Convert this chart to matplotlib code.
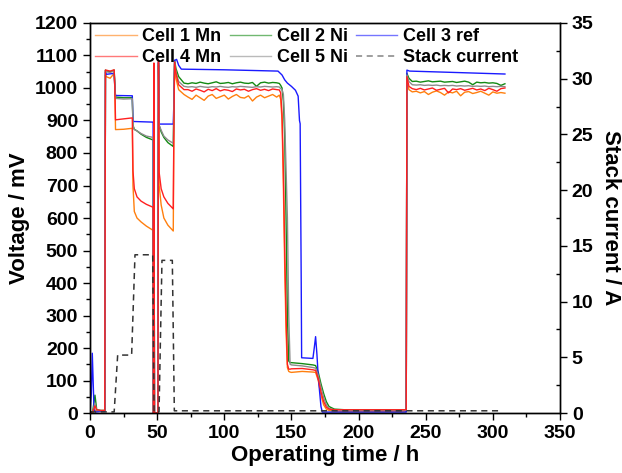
import numpy as np
import matplotlib
matplotlib.use('Agg')
import matplotlib.pyplot as plt
from matplotlib.ticker import MultipleLocator

plt.rcParams['font.family'] = ['Liberation Sans', 'DejaVu Sans']
plt.rcParams['font.weight'] = 'bold'

# Shared time knots (h) for cells 1, 2, 4, 5
t_start = [0, 2, 3.7, 5, 8, 11, 11.5]
t_step1 = [12, 15, 18, 18.5, 19, 25, 31.5]
t_step2 = [32, 33, 35, 38, 42, 47]
t_spike = [47.3, 47.6, 48, 50.6, 51, 51.5]
t_step3 = [53, 55, 58, 62, 62.5, 63, 64, 66, 70]
t_plat1 = [73, 76, 79, 82, 85, 88, 91, 94, 97, 100, 103, 106, 109, 112, 115,
           118, 121, 124, 127, 130, 133, 136, 139, 141]
t_drop1 = [142, 143, 144, 145, 146, 147, 148, 149, 150]
t_low = [158, 166, 168, 170, 172, 174, 176, 178, 182, 190, 235, 235.5]
t_rise = [236, 237.5]
t_plat2 = [240, 243, 246, 249, 252, 255, 258, 261, 264, 267, 270, 273, 276,
           279, 282, 285, 288, 291, 294, 297, 300, 303, 306, 309]

# Cell 1 Mn (mV)
cell1 = ([0, 0, 10, 5, 5, 5, 1040]
         + [1035, 1030, 1045, 1000, 872, 873, 876]
         + [700, 620, 600, 588, 575, 562]
         + [0, 1060, 0, 0, 1070, 700]
         + [640, 600, 578, 560, 900, 1075, 1030, 995, 980]
         + [972, 965, 978, 970, 962, 975, 980, 968, 973, 978, 966, 974, 980,
            971, 969, 976, 960, 972, 978, 970, 975, 980, 972, 978]
         + [965, 900, 700, 450, 250, 140, 128, 126, 125]
         + [128, 126, 125, 100, 55, 25, 12, 8, 6, 5, 5, 5]
         + [1020, 995]
         + [988, 990, 985, 989, 980, 987, 991, 986, 978, 988, 985, 990, 976,
            987, 989, 983, 986, 990, 984, 978, 988, 984, 986, 984])

# Cell 2 Ni (mV)
cell2 = ([0, 5, 55, 10, 8, 8, 1055]
         + [1052, 1050, 1055, 1010, 972, 970, 970]
         + [885, 873, 868, 858, 848, 840]
         + [0, 1065, 0, 0, 1078, 885]
         + [865, 848, 832, 820, 950, 1085, 1060, 1035, 1015]
         + [1013, 1016, 1014, 1018, 1015, 1013, 1016, 1019, 1014, 1015, 1017,
            1013, 1016, 1018, 1015, 1014, 1017, 1005, 1016, 1018, 1015, 1017,
            1016, 1014]
         + [1008, 1000, 960, 850, 600, 300, 160, 155, 155]
         + [152, 148, 146, 125, 90, 60, 35, 20, 12, 10, 9, 9]
         + [1045, 1030]
         + [1020, 1021, 1018, 1020, 1022, 1019, 1020, 1021, 1018, 1019, 1020,
            1017, 1019, 1021, 1018, 1010, 1018, 1016, 1017, 1015, 1016, 1014,
            1008, 1013])

# Cell 4 Mn (mV)
cell4 = ([0, 3, 22, 10, 8, 8, 1055]
         + [1055, 1052, 1056, 1000, 902, 905, 908]
         + [745, 690, 665, 652, 642, 633]
         + [0, 1077, 0, 0, 1086, 740]
         + [690, 665, 645, 628, 900, 1080, 1045, 1010, 995]
         + [995, 990, 997, 993, 988, 996, 992, 998, 991, 995, 993, 989, 997,
            994, 996, 990, 995, 998, 993, 996, 992, 997, 995, 994]
         + [985, 920, 750, 500, 300, 150, 135, 135, 136]
         + [137, 133, 131, 105, 65, 35, 18, 12, 10, 10, 10, 10]
         + [1035, 1005]
         + [998, 995, 999, 994, 997, 1000, 993, 996, 999, 985, 997, 995, 998,
            993, 996, 999, 994, 997, 992, 999, 995, 990, 998, 1000])

# Cell 5 Ni (mV)
cell5 = ([0, 3, 30, 8, 7, 7, 1055]
         + [1050, 1048, 1052, 1005, 968, 966, 967]
         + [885, 872, 868, 860, 852, 848]
         + [0, 1065, 0, 0, 1075, 885]
         + [870, 852, 840, 830, 950, 1080, 1050, 1020, 1005]
         + [1003, 1004, 1002, 1005, 1003, 1002, 1004, 1003, 1005, 1003, 1002,
            1004, 1003, 1005, 1004, 1003, 1002, 1004, 1003, 1005, 1004, 1003,
            1004, 1003]
         + [998, 995, 980, 900, 750, 600, 300, 150, 148]
         + [145, 140, 138, 115, 80, 48, 25, 14, 10, 8, 8, 8]
         + [1040, 1020]
         + [1010, 1009, 1010, 1008, 1009, 1008, 1009, 1007, 1008, 1007, 1008,
            1006, 1007, 1006, 1007, 1005, 1006, 1005, 1006, 1004, 1005, 1004,
            1005, 1004])

# Cell 3 ref has its own time base
t_ref = [0, 1, 1.7, 3, 4, 8, 11, 11.5, 12, 18, 18.5, 19, 31.5, 32, 47, 47.3,
         47.6, 48, 50.6, 51, 51.5, 62, 62.5, 63, 64.5, 66, 68, 100, 140, 143,
         145, 147, 150, 153, 155, 156, 156.5, 157.3, 157.6, 166, 167, 168, 169,
         170, 172, 173, 235, 235.5, 236, 238, 270, 309]
cell3 = [0, 60, 184, 10, 3, 5, 5, 1050, 1042, 1045, 1000, 977, 976, 897, 895,
         0, 1070, 0, 0, 1080, 889, 889, 960, 1085, 1088, 1070, 1058, 1056, 1052,
         1040, 1025, 1015, 1005, 993, 975, 900, 890, 400, 170, 168, 200, 235,
         180, 110, 20, 3, 3, 3, 1055, 1052, 1048, 1043]

# Stack current (A)
t_cur = [0, 18, 20.6, 31, 33.5, 46.7, 47.7, 51.4, 53.6, 61.3, 62.8, 70, 150,
         240, 307]
current = [0.1, 0.1, 5.2, 5.2, 14.2, 14.2, 0.1, 0.1, 13.7, 13.7, 0.2, 0.2,
           0.2, 0.2, 0.2]

t_cells = (t_start + t_step1 + t_step2 + t_spike + t_step3 + t_plat1
           + t_drop1 + t_low + t_rise + t_plat2)

fig = plt.figure(figsize=(6.22, 4.73), dpi=100)
ax = fig.add_axes([0.1447, 0.1268, 0.7556, 0.8246])
ax2 = ax.twinx()

l1, = ax.plot(t_cells, cell1, color='#ff7f0e', lw=1.0, label='Cell 1 Mn')
l2, = ax.plot(t_cells, cell2, color='#138a13', lw=1.0, label='Cell 2 Ni')
l3, = ax.plot(t_ref, cell3, color='#1a1aff', lw=1.0, label='Cell 3 ref')
l5, = ax.plot(t_cells, cell5, color='#8c8c8c', lw=1.0, label='Cell 5 Ni')
l4, = ax.plot(t_cells, cell4, color='#ff2020', lw=1.0, label='Cell 4 Mn')
lc, = ax2.plot(t_cur, current, color='#333333', lw=1.1,
               linestyle=(0, (4, 3)), label='Stack current')

ax.set_xlim(0, 350)
ax.set_ylim(0, 1200)
ax2.set_ylim(0, 35)

ax.xaxis.set_major_locator(MultipleLocator(50))
ax.xaxis.set_minor_locator(MultipleLocator(25))
ax.yaxis.set_major_locator(MultipleLocator(100))
ax.yaxis.set_minor_locator(MultipleLocator(50))
ax2.yaxis.set_major_locator(MultipleLocator(5))
ax2.yaxis.set_minor_locator(MultipleLocator(2.5))

ax.tick_params(axis='both', which='major', direction='out', length=5,
               width=1, labelsize=14)
ax.tick_params(axis='both', which='minor', direction='out', length=3, width=1)
ax2.tick_params(axis='y', which='major', direction='out', length=5, width=1,
                labelsize=14)
ax2.tick_params(axis='y', which='minor', direction='in', length=3, width=1)
for lab in ax.get_xticklabels() + ax.get_yticklabels() + ax2.get_yticklabels():
    lab.set_fontweight('bold')

for a in (ax, ax2):
    for s in a.spines.values():
        s.set_linewidth(1.0)

ax.set_xlabel('Operating time / h', fontsize=16, fontweight='bold', labelpad=2)
ax.set_ylabel('Voltage / mV', fontsize=16, fontweight='bold', labelpad=4)
ax2.set_ylabel('Stack current / A', fontsize=16, fontweight='bold',
               rotation=270, labelpad=20)

leg = ax2.legend(handles=[l1, l4, l2, l5, l3, lc], ncol=3, loc='upper left',
                 bbox_to_anchor=(0.0, 1.0), frameon=False, fontsize=13,
                 handlelength=2.3, handletextpad=0.3, columnspacing=0.45,
                 labelspacing=0.2, borderpad=0.15, borderaxespad=0.15)
for h in leg.get_lines():
    h.set_alpha(0.6)
for txt in leg.get_texts():
    txt.set_fontweight('bold')

fig.savefig('out.png', dpi=100)
